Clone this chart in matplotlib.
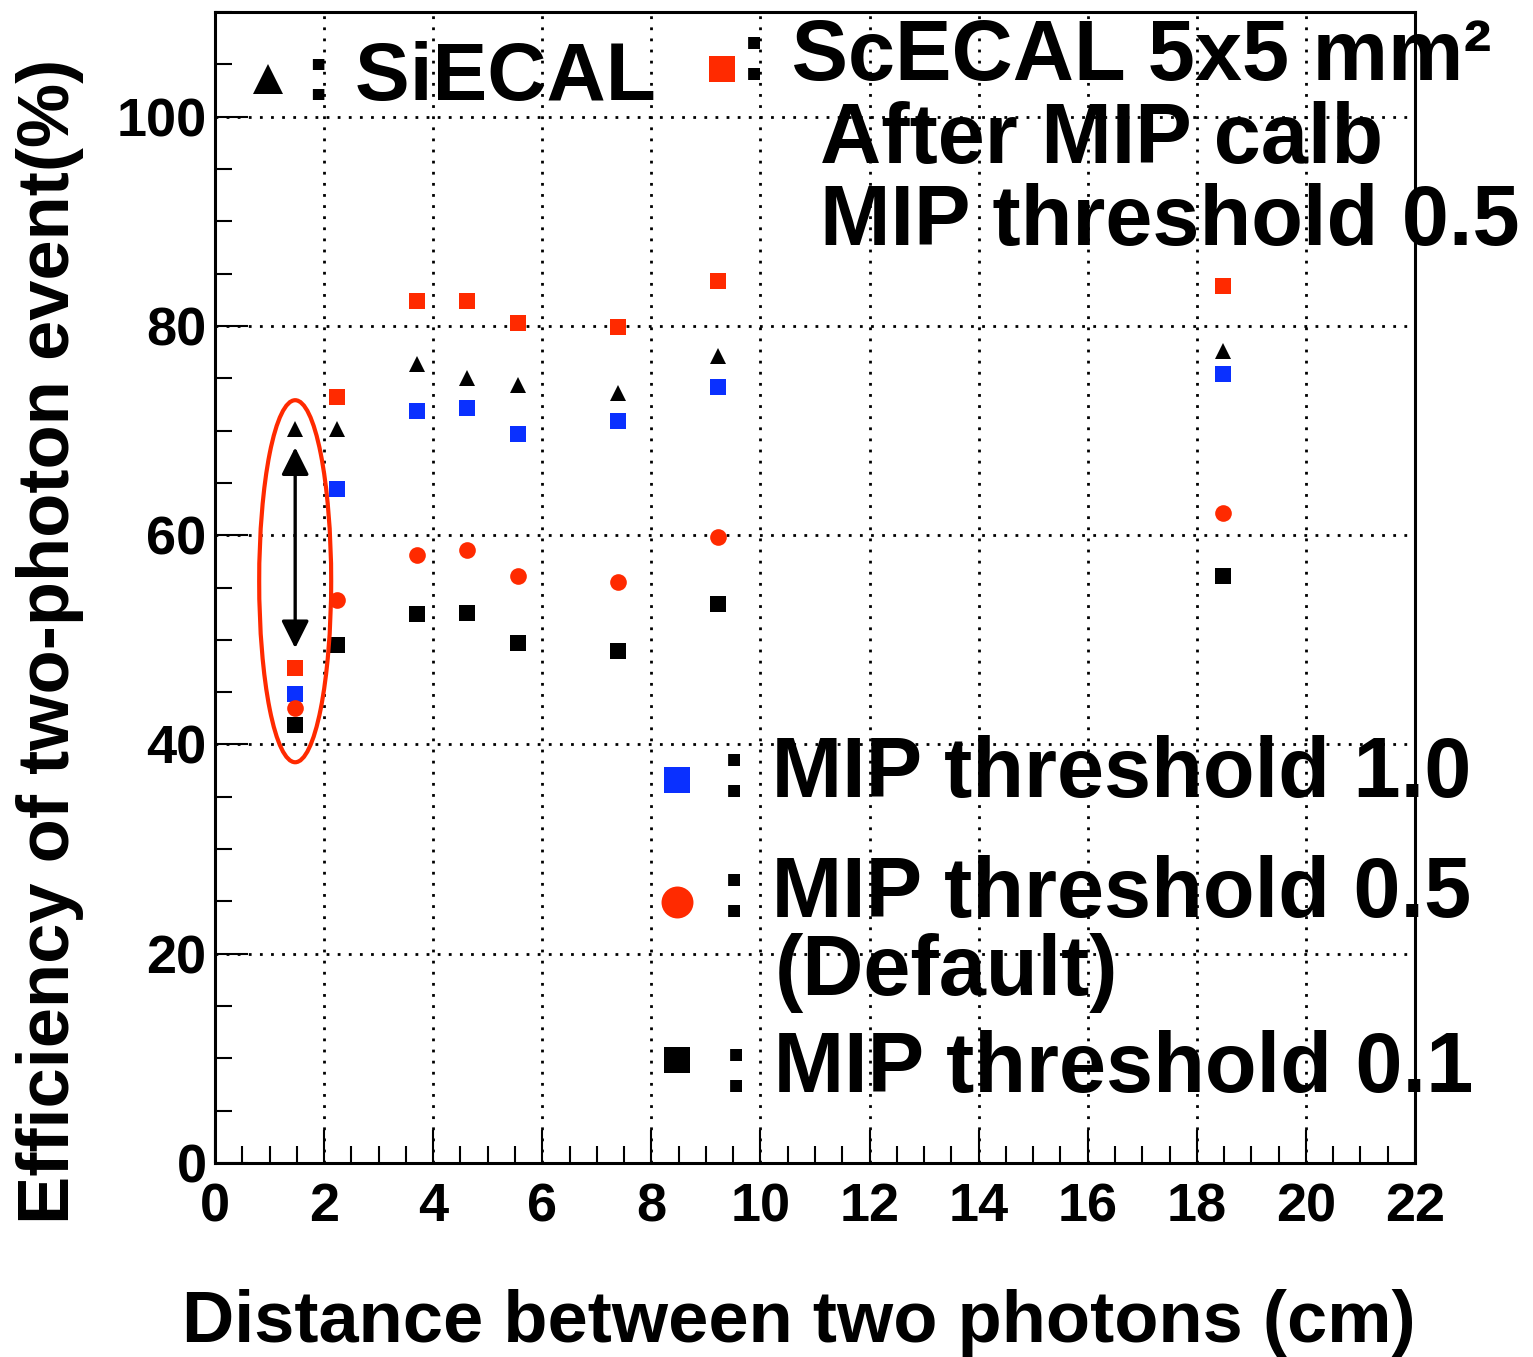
import matplotlib
matplotlib.use("Agg")
import matplotlib.pyplot as plt
from matplotlib.patches import Ellipse
from matplotlib.ticker import MultipleLocator

plt.rcParams['font.family'] = ['Liberation Sans', 'DejaVu Sans']
plt.rcParams['font.weight'] = 'bold'

# ---- data ----
distance = [1.47, 2.23, 3.70, 4.62, 5.55, 7.39, 9.22, 18.48]
siecal = [70.1, 70.1, 76.4, 75.0, 74.4, 73.6, 77.1, 77.6]
scecal_th05_calib = [47.3, 73.2, 82.4, 82.4, 80.3, 79.9, 84.3, 83.8]
scecal_th10 = [44.8, 64.4, 71.9, 72.2, 69.7, 70.9, 74.2, 75.4]
scecal_th05 = [43.5, 53.8, 58.1, 58.6, 56.1, 55.5, 59.8, 62.1]
scecal_th01 = [41.9, 49.5, 52.5, 52.6, 49.7, 48.9, 53.4, 56.1]
xticks = [0, 2, 4, 6, 8, 10, 12, 14, 16, 18, 20, 22]
yticks = [0, 20, 40, 60, 80, 100]
arrow_span = (49.2, 68.4)

RED = '#ff2a00'
BLUE = '#0a30ff'
BLACK = '#000000'

W, H = 1533, 1357
fig = plt.figure(figsize=(W / 100, H / 100), dpi=100)
ax = fig.add_axes([215 / W, 1 - 1163 / H, 1200 / W, (1163 - 12) / H])

ax.set_xlim(0, 22)
ax.set_ylim(0, 110)
ax.set_xticks(xticks)
ax.set_yticks(yticks)
ax.xaxis.set_minor_locator(MultipleLocator(0.5))
ax.yaxis.set_minor_locator(MultipleLocator(5))
ax.tick_params(which='major', direction='in', length=24, width=1.5,
               labelsize=39, top=False, right=False)
ax.tick_params(which='minor', direction='in', length=12, width=1.5,
               top=False, right=False)
ax.tick_params(axis='x', which='major', pad=14)
ax.tick_params(axis='y', which='major', pad=6)
for lab in ax.get_xticklabels() + ax.get_yticklabels():
    lab.set_fontweight('bold')
for s in ax.spines.values():
    s.set_linewidth(2.2)
ax.grid(True, which='major', color='black', linestyle=(0, (1, 3)), linewidth=2)
ax.set_axisbelow(True)

ms = 12
ax.plot(distance, scecal_th05_calib, 's', color=RED, ms=ms, mew=0, zorder=3)
ax.plot(distance, siecal, '^', color=BLACK, ms=ms, mew=0, zorder=3)
ax.plot(distance, scecal_th10, 's', color=BLUE, ms=ms, mew=0, zorder=3)
ax.plot(distance, scecal_th05, 'o', color=RED, ms=ms, mew=0, zorder=3)
ax.plot(distance, scecal_th01, 's', color=BLACK, ms=ms, mew=0, zorder=3)

# highlight ellipse and arrow at smallest distance
ax.add_patch(Ellipse((distance[0], 55.6), 1.32, 34.6, fill=False,
                     edgecolor=RED, linewidth=3.0, zorder=4))
ax.annotate('', xy=(distance[0], arrow_span[0]), xytext=(distance[0], arrow_span[1]),
            arrowprops=dict(arrowstyle='<|-|>', color='black', lw=2.4,
                            mutation_scale=42, shrinkA=0, shrinkB=0), zorder=5)

# overlay in pixel coordinates for labels and legends
ov = fig.add_axes([0, 0, 1, 1], facecolor='none')
ov.set_xlim(0, W)
ov.set_ylim(H, 0)
ov.axis('off')

fs = 61
ov.plot([268], [79], '^', color=BLACK, ms=22, mew=0)
ov.text(305, 100, ': SiECAL', fontsize=59, fontweight='bold', va='baseline', ha='left')
ov.plot([722], [69], 's', color=RED, ms=19, mew=0)
ov.text(740, 80, ': ScECAL 5x5 mm²', fontsize=fs, fontweight='bold', va='baseline', ha='left')
ov.text(820, 163, 'After MIP calb', fontsize=fs, fontweight='bold', va='baseline', ha='left')
ov.text(820, 245, 'MIP threshold 0.5', fontsize=fs, fontweight='bold', va='baseline', ha='left')

ov.plot([677], [780], 's', color=BLUE, ms=19, mew=0)
ov.text(720, 797, ': MIP threshold 1.0', fontsize=fs, fontweight='bold', va='baseline', ha='left')
ov.plot([677], [902], 'o', color=RED, ms=23, mew=0)
ov.text(720, 917, ': MIP threshold 0.5', fontsize=fs, fontweight='bold', va='baseline', ha='left')
ov.text(775, 995, '(Default)', fontsize=fs, fontweight='bold', va='baseline', ha='left')
ov.plot([677], [1060], 's', color=BLACK, ms=19, mew=0)
ov.text(722, 1092, ': MIP threshold 0.1', fontsize=fs, fontweight='bold', va='baseline', ha='left')

ov.text(799, 1342, 'Distance between two photons (cm)', fontsize=52, fontweight='bold',
        va='baseline', ha='center')
ov.text(50, 641, 'Efficiency of two-photon event(%)', fontsize=52, fontweight='bold',
        va='center', ha='center', rotation=90)

fig.savefig('out.png', dpi=100)
